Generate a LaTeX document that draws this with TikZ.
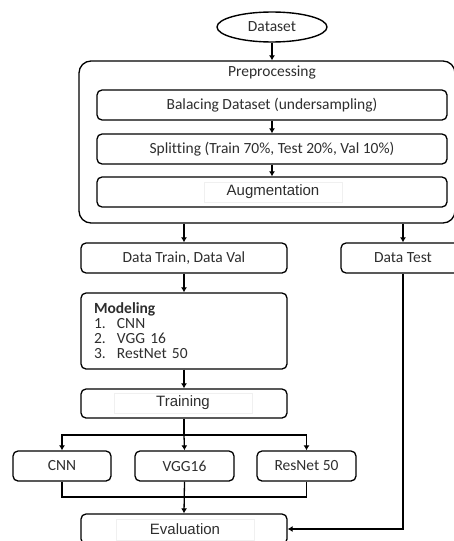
\documentclass[tikz,border=0pt]{standalone}
\usepackage{fontspec}
\setmainfont{Carlito}[Ligatures=CommonOff]
\newfontfamily\arialf{Liberation Sans}
\usetikzlibrary{shapes.geometric,arrows.meta}
\definecolor{txt}{HTML}{2E2E2E}
\tikzset{
  box/.style={draw=black, line width=1.3pt, rounded corners=5pt, minimum height=30pt, inner sep=0pt, text=txt, font=\fontsize{15.5}{15}\selectfont},
  faint/.style={draw=gray!12, line width=0.5pt, inner sep=0pt},
  arr/.style={line width=1.3pt, -{Latex[length=5pt,width=6pt]}},
  ln/.style={line width=1.3pt},
}
\begin{document}
\begin{tikzpicture}[x=1pt,y=-1pt]
\useasboundingbox (0,0) rectangle (454,541);
\clip (0,0) rectangle (454,541);
\node[draw=black, line width=1.4pt, ellipse, minimum width=110pt, minimum height=30pt, inner sep=0pt, text=txt, font=\fontsize{15.5}{15}\selectfont] (ds) at (272,27) {Dataset};
\node[box, rounded corners=12pt, minimum width=376pt, minimum height=162pt] (pre) at (267,142) {};
\node[text=txt, font=\fontsize{15.5}{15}\selectfont] (pret) at (272,72) {Preprocessing};
\node[box, minimum width=350pt] (bal) at (272,105) {Balacing Dataset (undersampling)};
\node[box, minimum width=350pt] (spl) at (272,149) {Splitting (Train 70\%, Test 20\%, Val 10\%)};
\node[box, minimum width=350pt] (aug) at (272,192) {};
\node[faint, minimum width=138pt, minimum height=20pt, text=txt, font=\arialf\fontsize{15}{15}\selectfont] (augt) at (273,192) {Augmentation};
\node[box, minimum width=206pt] (dtv) at (184,258) {Data Train, Data Val};
\node[box, minimum width=124pt] (dt) at (403,258) {Data Test};
\node[box, minimum width=206pt, minimum height=76pt, align=left, text width=180pt, inner xsep=13pt] (mod) at (184,331) {\textbf{Modeling}\\\makebox[23pt][l]{1.}CNN\\\makebox[23pt][l]{2.}VGG 16\\\makebox[23pt][l]{3.}RestNet 50};
\node[box, minimum width=206pt, minimum height=29pt] (tr) at (184,403.5) {};
\node[faint, minimum width=138pt, minimum height=20pt, text=txt, font=\arialf\fontsize{15}{15}\selectfont] (trt) at (183,403) {Training};
\node[box, minimum width=98pt] (cnn) at (62,466) {CNN};
\node[box, minimum width=99pt] (vgg) at (184.5,466) {VGG16};
\node[box, minimum width=99pt] (res) at (306.5,466) {ResNet 50};
\node[box, minimum width=206pt] (ev) at (184,529) {};
\node[faint, minimum width=138pt, minimum height=21pt, text=txt, font=\arialf\fontsize{15}{15}\selectfont] (evt) at (185,529.5) {Evaluation};
\coordinate (br) at (184,435);
\coordinate (mg) at (184,497);
\draw[arr] (ds.south) -- (ds.south |- pre.north);
\draw[arr] (bal.south) -- (spl.north);
\draw[arr] (spl.south) -- (aug.north);
\draw[arr] (dtv.north |- pre.south) -- (dtv.north);
\draw[arr] (dt.north |- pre.south) -- (dt.north);
\draw[arr] (dtv.south) -- (mod.north);
\draw[arr] (mod.south) -- (tr.north);
\draw[ln] (tr.south) -- (br);
\draw[arr] (br) -| (cnn.north);
\draw[arr] (br) -| (res.north);
\draw[arr] (br) -- (vgg.north);
\draw[ln] (cnn.south) |- (mg);
\draw[ln] (res.south) |- (mg);
\draw[arr] (vgg.south) -- (ev.north);
\draw[arr] (dt.south) |- (ev.east);
\end{tikzpicture}
\end{document}
